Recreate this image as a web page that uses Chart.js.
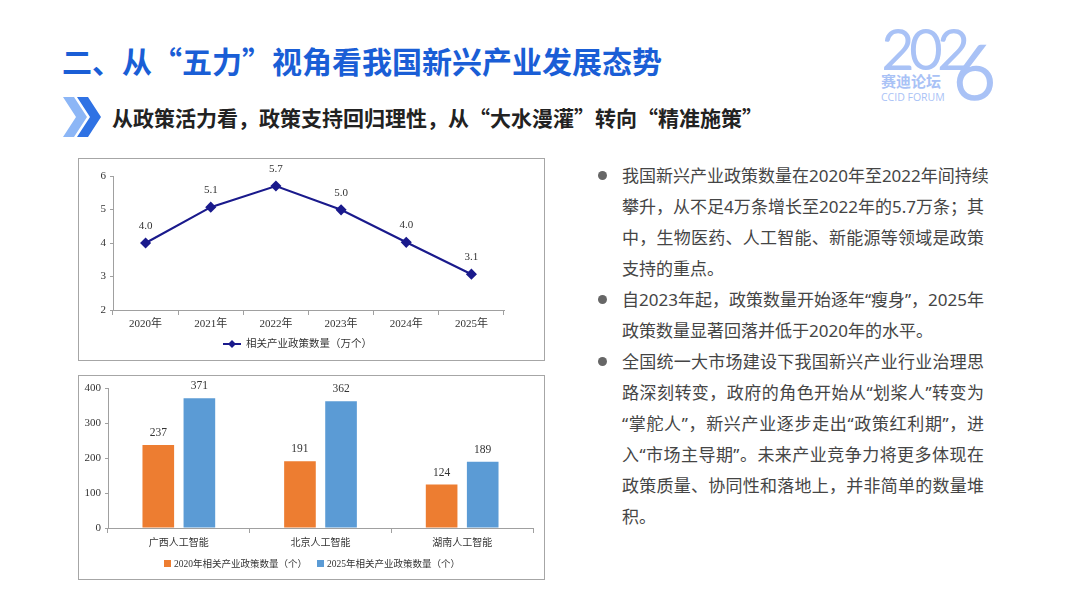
<!DOCTYPE html>
<html><head><meta charset="utf-8">
<script src="https://cdn.jsdelivr.net/npm/chart.js@4.4.1/dist/chart.umd.min.js"></script>
<style>
html,body{margin:0;padding:0;background:#fff;}
body{width:1080px;height:607px;position:relative;overflow:hidden;font-family:"Noto Sans CJK SC","Noto Sans",sans-serif;}
.title{position:absolute;left:62px;top:38px;font-size:30px;font-weight:700;color:#1a5ed6;letter-spacing:0px;white-space:nowrap;}
.sub{position:absolute;left:112px;top:102px;font-size:21px;font-weight:700;color:#222;white-space:nowrap;}
.box{position:absolute;border:1px solid #a6a6a6;background:#fff;}
.box canvas{display:block;}
.txt{position:absolute;left:622px;top:160px;width:362px;font-size:17px;line-height:31px;color:#454545;font-family:"Noto Sans","Noto Sans CJK SC",sans-serif;}
.txt .ln{white-space:nowrap;text-align:justify;text-align-last:justify;height:31px;}
.txt .ln.last{text-align-last:left;}
.bul{position:absolute;left:-24px;width:9px;height:9px;border-radius:50%;background:#666;margin-top:11px;}
.p{position:relative;}
</style></head>
<body>
<div class="title">二、从“五力”视角看我国新兴产业发展态势</div>
<svg style="position:absolute;left:60px;top:95px" width="45" height="45" viewBox="0 0 45 45">
  <polygon points="3,2 14,2 27,22 14,42 3,42 16,22" fill="#8cb6f6"/>
  <polygon points="17,2 28,2 41,22 28,42 17,42 30,22" fill="#2f72e4"/>
</svg>
<div class="sub">从政策活力看，政策支持回归理性，从“大水漫灌”转向“精准施策”</div>
<svg style="position:absolute;left:870px;top:12px" width="140" height="95" viewBox="0 0 140 95">
  <text x="12" y="57" font-family="Lato, 'Open Sans', sans-serif" font-weight="300" font-size="55" fill="#a9c2f6" stroke="#a9c2f6" stroke-width="2.2" letter-spacing="-4">202</text>
  <text x="83" y="87" font-family="Lato, 'Open Sans', sans-serif" font-weight="300" font-size="74" fill="#a9c2f6" stroke="#a9c2f6" stroke-width="2.5">6</text>
  <text x="11" y="75" font-family="'Noto Sans CJK SC'" font-weight="700" font-size="15" fill="#a9c2f6">赛迪论坛</text>
  <text x="11" y="89" font-family="'Open Sans', sans-serif" font-size="10.5" fill="#a9c2f6">CCID FORUM</text>
</svg>

<div class="box" style="left:78px;top:158px;width:465px;height:201px;"><canvas id="lineC" width="465" height="201"></canvas></div>
<div class="box" style="left:78px;top:375px;width:465px;height:203px;"><canvas id="barC" width="465" height="203"></canvas></div>

<div class="txt">
  <div class="p"><span class="bul"></span>
    <div class="ln">我国新兴产业政策数量在2020年至2022年间持续</div>
    <div class="ln">攀升，从不足4万条增长至2022年的5.7万条；其</div>
    <div class="ln">中，生物医药、人工智能、新能源等领域是政策</div>
    <div class="ln last">支持的重点。</div>
  </div>
  <div class="p"><span class="bul"></span>
    <div class="ln">自2023年起，政策数量开始逐年“瘦身”，2025年</div>
    <div class="ln last">政策数量显著回落并低于2020年的水平。</div>
  </div>
  <div class="p"><span class="bul"></span>
    <div class="ln">全国统一大市场建设下我国新兴产业行业治理思</div>
    <div class="ln">路深刻转变，政府的角色开始从“划桨人”转变为</div>
    <div class="ln">“掌舵人”，新兴产业逐步走出“政策红利期”，进</div>
    <div class="ln">入“市场主导期”。未来产业竞争力将更多体现在</div>
    <div class="ln">政策质量、协同性和落地上，并非简单的数量堆</div>
    <div class="ln last">积。</div>
  </div>
</div>

<script>
const years = ['2020年','2021年','2022年','2023年','2024年','2025年'];
const policyCount = [4.0, 5.07, 5.7, 4.99, 4.02, 3.07];
const policyLabels = ['4.0','5.1','5.7','5.0','4.0','3.1'];
const lineSeriesName = '相关产业政策数量（万个）';
const lineTicks = [2,3,4,5,6];

const regions = ['广西人工智能','北京人工智能','湖南人工智能'];
const count2020 = [237, 191, 124];
const count2025 = [371, 362, 189];
const barSeriesNames = ['2020年相关产业政策数量（个）','2025年相关产业政策数量（个）'];
const barTicks = [0,100,200,300,400];

const SERIF = "'Liberation Serif','Noto Sans CJK SC',serif";
const AX = '#a0a0a0';
const TXT = '#333';

function fitW(w){return function(s){s.width=w;};}
function fitH(h){return function(s){s.height=h;};}

const lineLabelPlugin = {
  id:'lineLabels',
  afterDatasetsDraw(chart){
    const ctx=chart.ctx; const meta=chart.getDatasetMeta(0);
    ctx.save(); ctx.font="11px "+SERIF; ctx.fillStyle=TXT; ctx.textAlign='center'; ctx.textBaseline='middle';
    meta.data.forEach((p,i)=>{ctx.fillText(policyLabels[i], p.x, p.y-17);});
    const ly=185;
    ctx.font="10.5px "+SERIF;
    const x0=144;
    ctx.strokeStyle='#1a1a8c'; ctx.lineWidth=2; ctx.beginPath(); ctx.moveTo(x0,ly); ctx.lineTo(x0+18,ly); ctx.stroke();
    ctx.fillStyle='#1a1a8c'; ctx.beginPath(); ctx.moveTo(x0+9,ly-4); ctx.lineTo(x0+13,ly); ctx.lineTo(x0+9,ly+4); ctx.lineTo(x0+5,ly); ctx.closePath(); ctx.fill();
    ctx.fillStyle=TXT; ctx.textAlign='left'; ctx.fillText(lineSeriesName, x0+23, ly);
    ctx.restore();
  }
};

new Chart(document.getElementById('lineC'),{
  type:'line',
  data:{labels:years,datasets:[{label:lineSeriesName,data:policyCount,borderColor:'#1a1a8c',backgroundColor:'#1a1a8c',borderWidth:2.2,pointStyle:'rectRot',pointRadius:4,pointHoverRadius:4,tension:0}]},
  options:{
    responsive:false,animation:false,
    layout:{padding:{left:0,right:40,top:17,bottom:30}},
    plugins:{legend:{display:false},tooltip:{enabled:false}},
    scales:{
      x:{offset:true,afterFit:fitH(20),grid:{offset:true,drawOnChartArea:false,tickLength:5,color:AX},border:{color:AX},
         ticks:{font:{family:SERIF,size:11},color:TXT,padding:3}},
      y:{min:2,max:6,afterFit:fitW(34),afterBuildTicks(s){s.ticks=lineTicks.map(v=>({value:v}));},
         grid:{drawOnChartArea:false,tickLength:3,color:AX},border:{color:AX},
         ticks:{font:{family:SERIF,size:11},color:TXT,padding:4}}
    }
  },
  plugins:[lineLabelPlugin]
});

const barLabelPlugin = {
  id:'barLabels',
  afterDatasetsDraw(chart){
    const ctx=chart.ctx;
    ctx.save(); ctx.font="11.5px "+SERIF; ctx.fillStyle=TXT; ctx.textAlign='center'; ctx.textBaseline='middle';
    chart.data.datasets.forEach((ds,di)=>{
      chart.getDatasetMeta(di).data.forEach((b,i)=>{ctx.fillText(String(ds.data[i]), b.x, b.y-12);});
    });
    const ly=188; ctx.font="9.5px "+SERIF; ctx.textAlign='left';
    const cols=['#ed7d31','#5b9bd5'];
    const w0=ctx.measureText(barSeriesNames[0]).width, w1=ctx.measureText(barSeriesNames[1]).width;
    let x=85;
    [0,1].forEach(k=>{
      ctx.fillStyle=cols[k]; ctx.fillRect(x,ly-4,7,7); x+=10;
      ctx.fillStyle=TXT; ctx.fillText(barSeriesNames[k],x,ly); x+= (k?w1:w0)+10;
    });
    ctx.restore();
  }
};

new Chart(document.getElementById('barC'),{
  type:'bar',
  data:{labels:regions,datasets:[
    {label:barSeriesNames[0],data:count2020,backgroundColor:'#ed7d31'},
    {label:barSeriesNames[1],data:count2025,backgroundColor:'#5b9bd5'}]},
  options:{
    responsive:false,animation:false,
    categoryPercentage:0.58,barPercentage:0.77,
    layout:{padding:{left:0,right:11,top:12,bottom:29}},
    plugins:{legend:{display:false},tooltip:{enabled:false}},
    scales:{
      x:{afterFit:fitH(22),grid:{offset:true,drawOnChartArea:false,tickLength:5,color:AX},border:{color:AX},
         ticks:{font:{family:SERIF,size:10},color:TXT,padding:4}},
      y:{min:0,max:400,afterFit:fitW(29),afterBuildTicks(s){s.ticks=barTicks.map(v=>({value:v}));},
         grid:{drawOnChartArea:false,tickLength:3,color:AX},border:{color:AX},
         ticks:{font:{family:SERIF,size:11},color:TXT,padding:4}}
    }
  },
  plugins:[barLabelPlugin]
});
</script>
</body></html>
